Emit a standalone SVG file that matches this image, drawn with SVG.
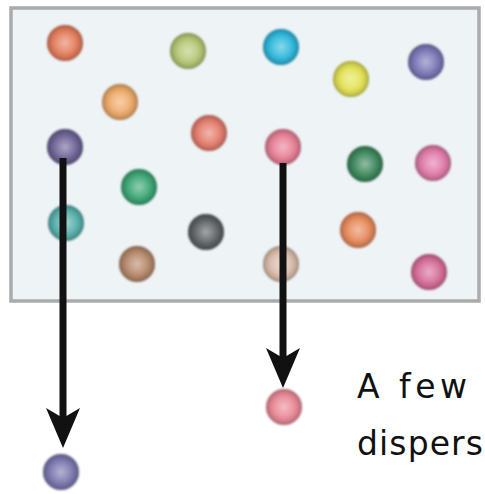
<svg xmlns="http://www.w3.org/2000/svg" width="485" height="494" viewBox="0 0 485 494">
<defs>
<radialGradient id="shade" cx="0.5" cy="0.5" r="0.5">
<stop offset="0" stop-color="#ffffff" stop-opacity="0.45"/>
<stop offset="0.55" stop-color="#ffffff" stop-opacity="0.1"/>
<stop offset="0.8" stop-color="#000000" stop-opacity="0.08"/>
<stop offset="1" stop-color="#000000" stop-opacity="0.3"/>
</radialGradient>
<filter id="soft" x="-30%" y="-30%" width="160%" height="160%">
<feGaussianBlur stdDeviation="0.8"/>
</filter>
</defs>
<style>
.ball{filter:url(#soft)}
.sh{fill:url(#shade)}
.conn line{stroke:#111;stroke-width:7}
.conn polygon{fill:#111}
.lbl{font-family:"DejaVu Sans","Liberation Sans",sans-serif;font-size:33px;fill:#111}
</style>
<rect width="485" height="494" fill="#ffffff"/>
<g id="container">
<rect x="11" y="8" width="468" height="293" fill="#eef3f6" stroke="#a9abad" stroke-width="3.5"/>
</g>
<g id="p1" class="ball"><circle cx="65" cy="43" r="18" fill="#e57c5c"/><circle cx="65" cy="43" r="18" class="sh"/></g>
<g id="p2" class="ball"><circle cx="188" cy="51" r="18" fill="#b5c874"/><circle cx="188" cy="51" r="18" class="sh"/></g>
<g id="p3" class="ball"><circle cx="281" cy="47" r="18" fill="#2cb8dc"/><circle cx="281" cy="47" r="18" class="sh"/></g>
<g id="p4" class="ball"><circle cx="351" cy="79" r="18" fill="#e3e352"/><circle cx="351" cy="79" r="18" class="sh"/></g>
<g id="p5" class="ball"><circle cx="426" cy="62" r="18" fill="#7a76b6"/><circle cx="426" cy="62" r="18" class="sh"/></g>
<g id="p6" class="ball"><circle cx="120" cy="102" r="18" fill="#eeaa68"/><circle cx="120" cy="102" r="18" class="sh"/></g>
<g id="p7" class="ball"><circle cx="65" cy="147" r="18" fill="#6c6296"/><circle cx="65" cy="147" r="18" class="sh"/></g>
<g id="p8" class="ball"><circle cx="209" cy="133" r="18" fill="#e57c6c"/><circle cx="209" cy="133" r="18" class="sh"/></g>
<g id="p9" class="ball"><circle cx="283" cy="147" r="18" fill="#e87e95"/><circle cx="283" cy="147" r="18" class="sh"/></g>
<g id="p10" class="ball"><circle cx="365" cy="164" r="18" fill="#3b875b"/><circle cx="365" cy="164" r="18" class="sh"/></g>
<g id="p11" class="ball"><circle cx="433" cy="163" r="18" fill="#e07aa8"/><circle cx="433" cy="163" r="18" class="sh"/></g>
<g id="p12" class="ball"><circle cx="139" cy="187" r="18" fill="#3ba574"/><circle cx="139" cy="187" r="18" class="sh"/></g>
<g id="p13" class="ball"><circle cx="66" cy="223" r="18" fill="#56b0ab"/><circle cx="66" cy="223" r="18" class="sh"/></g>
<g id="p14" class="ball"><circle cx="206" cy="232" r="18" fill="#5c6064"/><circle cx="206" cy="232" r="18" class="sh"/></g>
<g id="p15" class="ball"><circle cx="358" cy="230" r="18" fill="#e8895a"/><circle cx="358" cy="230" r="18" class="sh"/></g>
<g id="p16" class="ball"><circle cx="137" cy="264" r="18" fill="#b5876a"/><circle cx="137" cy="264" r="18" class="sh"/></g>
<g id="p17" class="ball"><circle cx="281" cy="264" r="18" fill="#d9bcaa"/><circle cx="281" cy="264" r="18" class="sh"/></g>
<g id="p18" class="ball"><circle cx="429" cy="272" r="18" fill="#d66c98"/><circle cx="429" cy="272" r="18" class="sh"/></g>
<g id="connectors" class="conn">
<line x1="63" y1="158" x2="63" y2="420"/>
<polygon points="63,448 46,408 63,418 80,408"/>
<line x1="283" y1="163" x2="283" y2="358"/>
<polygon points="283,388 266,348 283,358 300,348"/>
</g>
<g id="out1" class="ball"><circle cx="61" cy="472" r="18" fill="#7a76ae"/><circle cx="61" cy="472" r="18" class="sh"/></g>
<g id="out2" class="ball"><circle cx="284" cy="407" r="18" fill="#ea8896"/><circle cx="284" cy="407" r="18" class="sh"/></g>
<g id="label">
<text class="lbl" x="357" y="398" textLength="110" lengthAdjust="spacing">A few</text>
<text class="lbl" x="357" y="455" textLength="126" lengthAdjust="spacing">dispers</text>
</g>
</svg>
